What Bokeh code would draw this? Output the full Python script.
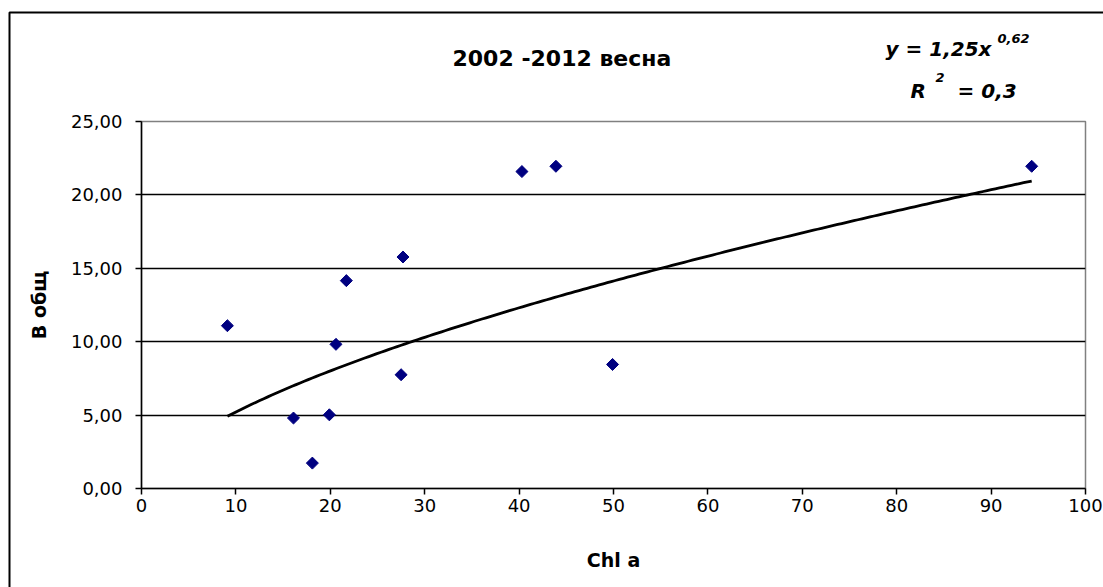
import numpy as np
from bokeh.plotting import figure
from bokeh.models import FixedTicker, CustomJSTickFormatter, ColumnDataSource
from bokeh.core.properties import value
from bokeh.embed import file_html
from bokeh.resources import INLINE

# Chl a vs. B общ, spring samples 2002-2012
chl_a = [9.1, 16.1, 18.1, 19.9, 20.6, 21.7, 27.5, 27.7, 40.3, 43.9, 49.9, 94.3]
b_total = [11.09, 4.80, 1.73, 5.02, 9.82, 14.16, 7.75, 15.77, 21.59, 21.95, 8.45, 21.95]

# power trend y = a * x^b
trend_a = 1.25
trend_b = 0.62

x_ticks = [0, 10, 20, 30, 40, 50, 60, 70, 80, 90, 100]
y_ticks = [0, 5, 10, 15, 20, 25]

chart_title = "2002 -2012 весна"

FONT = "DejaVu Sans"

W, H = 1103, 587
LEFT, RIGHT, TOP, BOTTOM = 141, 18, 121, 99

p = figure(width=W, height=H, x_range=(0, 100), y_range=(0, 25),
           output_backend="svg", toolbar_location=None,
           min_border_left=LEFT, min_border_right=RIGHT,
           min_border_top=TOP, min_border_bottom=BOTTOM,
           background_fill_color="white", border_fill_color="white")

# page pixel -> data coordinates, used for the texts and border outside the frame
frame_w = W - LEFT - RIGHT
frame_h = H - TOP - BOTTOM
def px_x(px):
    return (px - LEFT) / frame_w * 100
def px_y(py):
    return (H - BOTTOM - py) / frame_h * 25

p.outline_line_color = "#808080"
p.outline_line_width = 1.5

# grid: horizontal only
p.xgrid.visible = False
p.ygrid.ticker = FixedTicker(ticks=y_ticks)
p.ygrid.grid_line_color = "black"
p.ygrid.grid_line_width = 1.5

for ax in (p.xaxis[0], p.yaxis[0]):
    ax.axis_line_color = "black"
    ax.axis_line_width = 1.5
    ax.major_tick_line_color = "black"
    ax.major_tick_line_width = 1.5
    ax.minor_tick_line_color = None
    ax.major_tick_in = 0
    ax.major_tick_out = 6
    ax.major_label_text_font = FONT
    ax.major_label_text_font_size = "18px"
    ax.major_label_text_color = "black"
    ax.axis_label_text_font = FONT
    ax.axis_label_text_font_size = "19px"
    ax.axis_label_text_font_style = "bold"
    ax.axis_label_text_color = "black"

p.xaxis.ticker = FixedTicker(ticks=x_ticks)
p.xaxis.major_label_standoff = 4
p.xaxis.axis_label = "Chl a"
p.xaxis.axis_label_standoff = 34

p.yaxis.ticker = FixedTicker(ticks=y_ticks)
p.yaxis.formatter = CustomJSTickFormatter(code="return tick.toFixed(2).replace('.', ',');")
p.yaxis.major_label_standoff = 13
p.yaxis.axis_label = "В общ"
p.yaxis.axis_label_standoff = 18

# trend line over the observed range
tx = np.linspace(min(chl_a), max(chl_a), 200)
ty = trend_a * tx ** trend_b
p.line(tx, ty, line_color="black", line_width=2.8)

src = ColumnDataSource(dict(x=chl_a, y=b_total))
p.scatter("x", "y", source=src, marker="square", angle=np.pi / 4, size=8.5,
          fill_color="#000080", line_color="#000080")

# chart title
title_r = p.text(x=[px_x(452)], y=[px_y(58)], text=[chart_title], text_font=value(FONT),
                 text_font_size="22px", text_font_style="bold",
                 text_color="black", text_baseline="alphabetic")

# trend equation (main text and superscripts)
eq_main = p.text(x=[px_x(885), px_x(910), px_x(957)], y=[px_y(48), px_y(90), px_y(90)],
                 text=["y = 1,25x", "R", "= 0,3"], text_font=value(FONT),
                 text_font_size="20px", text_font_style="bold italic",
                 text_color="black", text_baseline="alphabetic")
eq_sup = p.text(x=[px_x(997), px_x(935)], y=[px_y(38), px_y(77)],
                text=["0,62", "2"], text_font=value(FONT),
                text_font_size="13px", text_font_style="bold italic",
                text_color="black", text_baseline="alphabetic")

# chart area border (left and top edges)
border = p.line(x=[px_x(9), px_x(9), px_x(1120)], y=[px_y(620), px_y(12), px_y(12)],
                line_color="black", line_width=2)

for r in (title_r, eq_main, eq_sup, border):
    r.level = "overlay"

open("out.html", "w").write(file_html(p, INLINE))
